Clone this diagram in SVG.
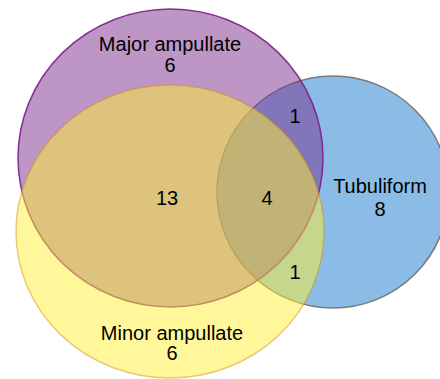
<svg xmlns="http://www.w3.org/2000/svg" width="440" height="379" viewBox="0 0 440 379">
<style>
text{font-family:"Liberation Sans",Arial,sans-serif;font-size:20px;fill:#000;text-anchor:middle}
</style>
<rect width="440" height="379" fill="#fff"/>
<g id="tubuliform">
<circle cx="333" cy="192" r="116" fill="#8BBCE6" stroke="#7A7A7A" stroke-width="1.5"/>
</g>
<g id="major-ampullate">
<ellipse cx="170.5" cy="158" rx="152.5" ry="149" fill="#7B2D8B" fill-opacity="0.5" stroke="#7A1F8A" stroke-width="1.5" stroke-opacity="0.9"/>
</g>
<g id="minor-ampullate">
<ellipse cx="170" cy="231.5" rx="154" ry="146.5" fill="#FFEF33" fill-opacity="0.5" stroke="#D08A10" stroke-width="1.5" stroke-opacity="0.45"/>
</g>
<g id="labels">
<text x="170" y="51">Major ampullate</text>
<text x="170" y="72">6</text>
<text x="172" y="340">Minor ampullate</text>
<text x="172" y="360">6</text>
<text x="380" y="193">Tubuliform</text>
<text x="380" y="216">8</text>
<text x="167" y="205">13</text>
<text x="267" y="205">4</text>
<text x="295" y="123">1</text>
<text x="295" y="279">1</text>
</g>
</svg>
